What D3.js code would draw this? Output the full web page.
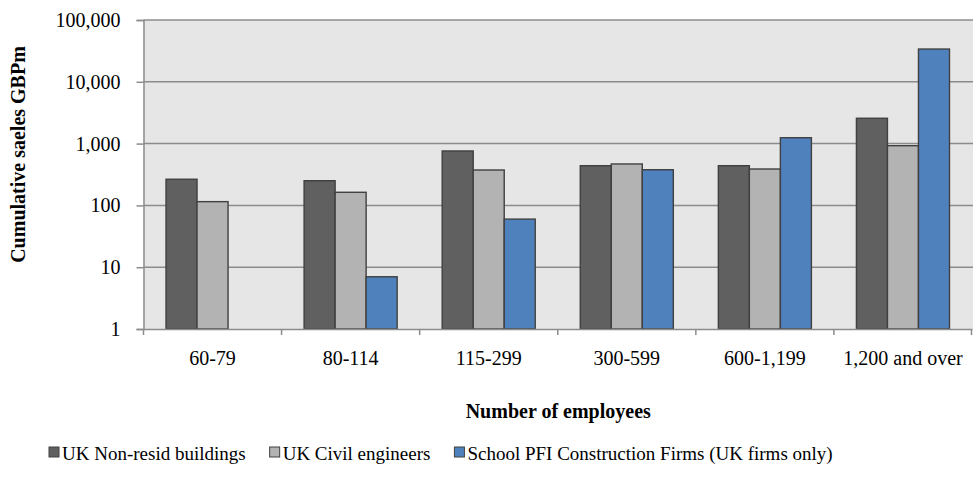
<!DOCTYPE html>
<html>
<head>
<meta charset="utf-8">
<script src="https://cdn.jsdelivr.net/npm/d3@7"></script>
<style>
  html, body { margin: 0; padding: 0; background: #fff; }
  svg { display: block; }
  text { font-family: "Liberation Serif", "Times New Roman", serif; fill: #000; }
</style>
</head>
<body>
<svg id="chart" width="973" height="486"></svg>
<script>
// Employee size bands
const categories = ["60-79", "80-114", "115-299", "300-599", "600-1,199", "1,200 and over"];

// Cumulative sales, GBP millions (null = no firms in that band)
const nonResidBuildings = [265, 251, 760, 439, 439, 2570];
const civilEngineers    = [115, 163, 374, 468, 388, 925];
const schoolPfiFirms    = [null, 7, 60, 378, 1245, 33900];

const seriesNames  = ["UK Non-resid buildings", "UK Civil engineers", "School PFI Construction Firms (UK firms only)"];
const seriesValues = [nonResidBuildings, civilEngineers, schoolPfiFirms];
const seriesColors = ["#606060", "#b3b3b3", "#4f81bd"];

const yTicks = [1, 10, 100, 1000, 10000, 100000];

const svg = d3.select("#chart");
const margin = { left: 143.5, right: 1, top: 20, bottom: 157 };
const W = 973, H = 486;
const x0 = margin.left, x1 = W - margin.right;
const yTop = margin.top, yBot = H - margin.bottom;

const x = d3.scaleBand().domain(categories).range([x0, x1]).paddingInner(0).paddingOuter(0);
const inner = d3.scaleBand().domain(d3.range(seriesNames.length))
  .range([0, x.bandwidth()]).paddingInner(0).paddingOuter(0.726);
const y = d3.scaleLog().domain([1, 100000]).range([yBot, yTop]);

// plot area background
svg.append("rect")
  .attr("x", x0).attr("y", yTop)
  .attr("width", x1 - x0 + 1).attr("height", yBot - yTop)
  .attr("fill", "#e6e6e6");

// horizontal gridlines
svg.append("g").selectAll("line").data(yTicks.slice(1)).join("line")
  .attr("x1", x0).attr("x2", W)
  .attr("y1", d => y(d)).attr("y2", d => y(d))
  .attr("stroke", "#8c8c8c").attr("stroke-width", 1.5);

// bars
const groups = svg.append("g").selectAll("g").data(categories).join("g")
  .attr("transform", d => `translate(${x(d)},0)`);
groups.selectAll("rect")
  .data((c, i) => seriesValues.map((vals, s) => ({ s, v: vals[i] })).filter(d => d.v != null))
  .join("rect")
  .attr("x", d => inner(d.s))
  .attr("width", inner.bandwidth())
  .attr("y", d => y(d.v))
  .attr("height", d => yBot - y(d.v))
  .attr("fill", d => seriesColors[d.s])
  .attr("stroke", "#404040").attr("stroke-width", 1.4);

// y axis
const yAxis = d3.axisLeft(y).tickValues(yTicks).tickFormat(d3.format(",")).tickSize(7).tickPadding(16);
const gy = svg.append("g").attr("transform", `translate(${x0},0)`).call(yAxis);
gy.select(".domain").attr("stroke", "#8c8c8c").attr("stroke-width", 1.5);
gy.selectAll(".tick line").attr("stroke", "#8c8c8c").attr("stroke-width", 1.5);
gy.selectAll(".tick text").attr("font-size", 20).attr("font-family", "Liberation Serif").attr("fill", "#000");

// x axis
const xAxis = d3.axisBottom(x).tickSize(0).tickPadding(22);
const gx = svg.append("g").attr("transform", `translate(0,${yBot})`).call(xAxis);
gx.select(".domain").attr("stroke", "#8c8c8c").attr("stroke-width", 1.5);
gx.selectAll(".tick text").attr("font-size", 20).attr("font-family", "Liberation Serif").attr("fill", "#000");
// category separators
gx.append("g").selectAll("line").data(categories.map(c => x(c)).concat([x1 - 0.5])).join("line")
  .attr("x1", d => d).attr("x2", d => d).attr("y1", 0).attr("y2", 6)
  .attr("stroke", "#8c8c8c").attr("stroke-width", 1.5);

// axis titles
svg.append("text")
  .attr("x", (x0 + x1) / 2 + 0.5).attr("y", 418)
  .attr("text-anchor", "middle").attr("font-size", 20).attr("font-weight", "bold")
  .text("Number of employees");
svg.append("text")
  .attr("transform", `translate(25,${(yTop + yBot) / 2 - 20}) rotate(-90)`)
  .attr("text-anchor", "middle").attr("font-size", 20).attr("font-weight", "bold")
  .text("Cumulative saeles GBPm");

// legend
const legend = svg.append("g").attr("transform", "translate(49,460)");
let lx = 0;
seriesNames.forEach((name, i) => {
  const g = legend.append("g").attr("transform", `translate(${lx},0)`);
  g.append("rect").attr("x", 0).attr("y", -13).attr("width", 10).attr("height", 10)
    .attr("fill", seriesColors[i]).attr("stroke", "#404040").attr("stroke-width", 1);
  const t = g.append("text").attr("x", 13).attr("y", 0).attr("font-size", 19).text(name);
  lx += 13 + t.node().getComputedTextLength() + 24;
});
</script>
</body>
</html>
